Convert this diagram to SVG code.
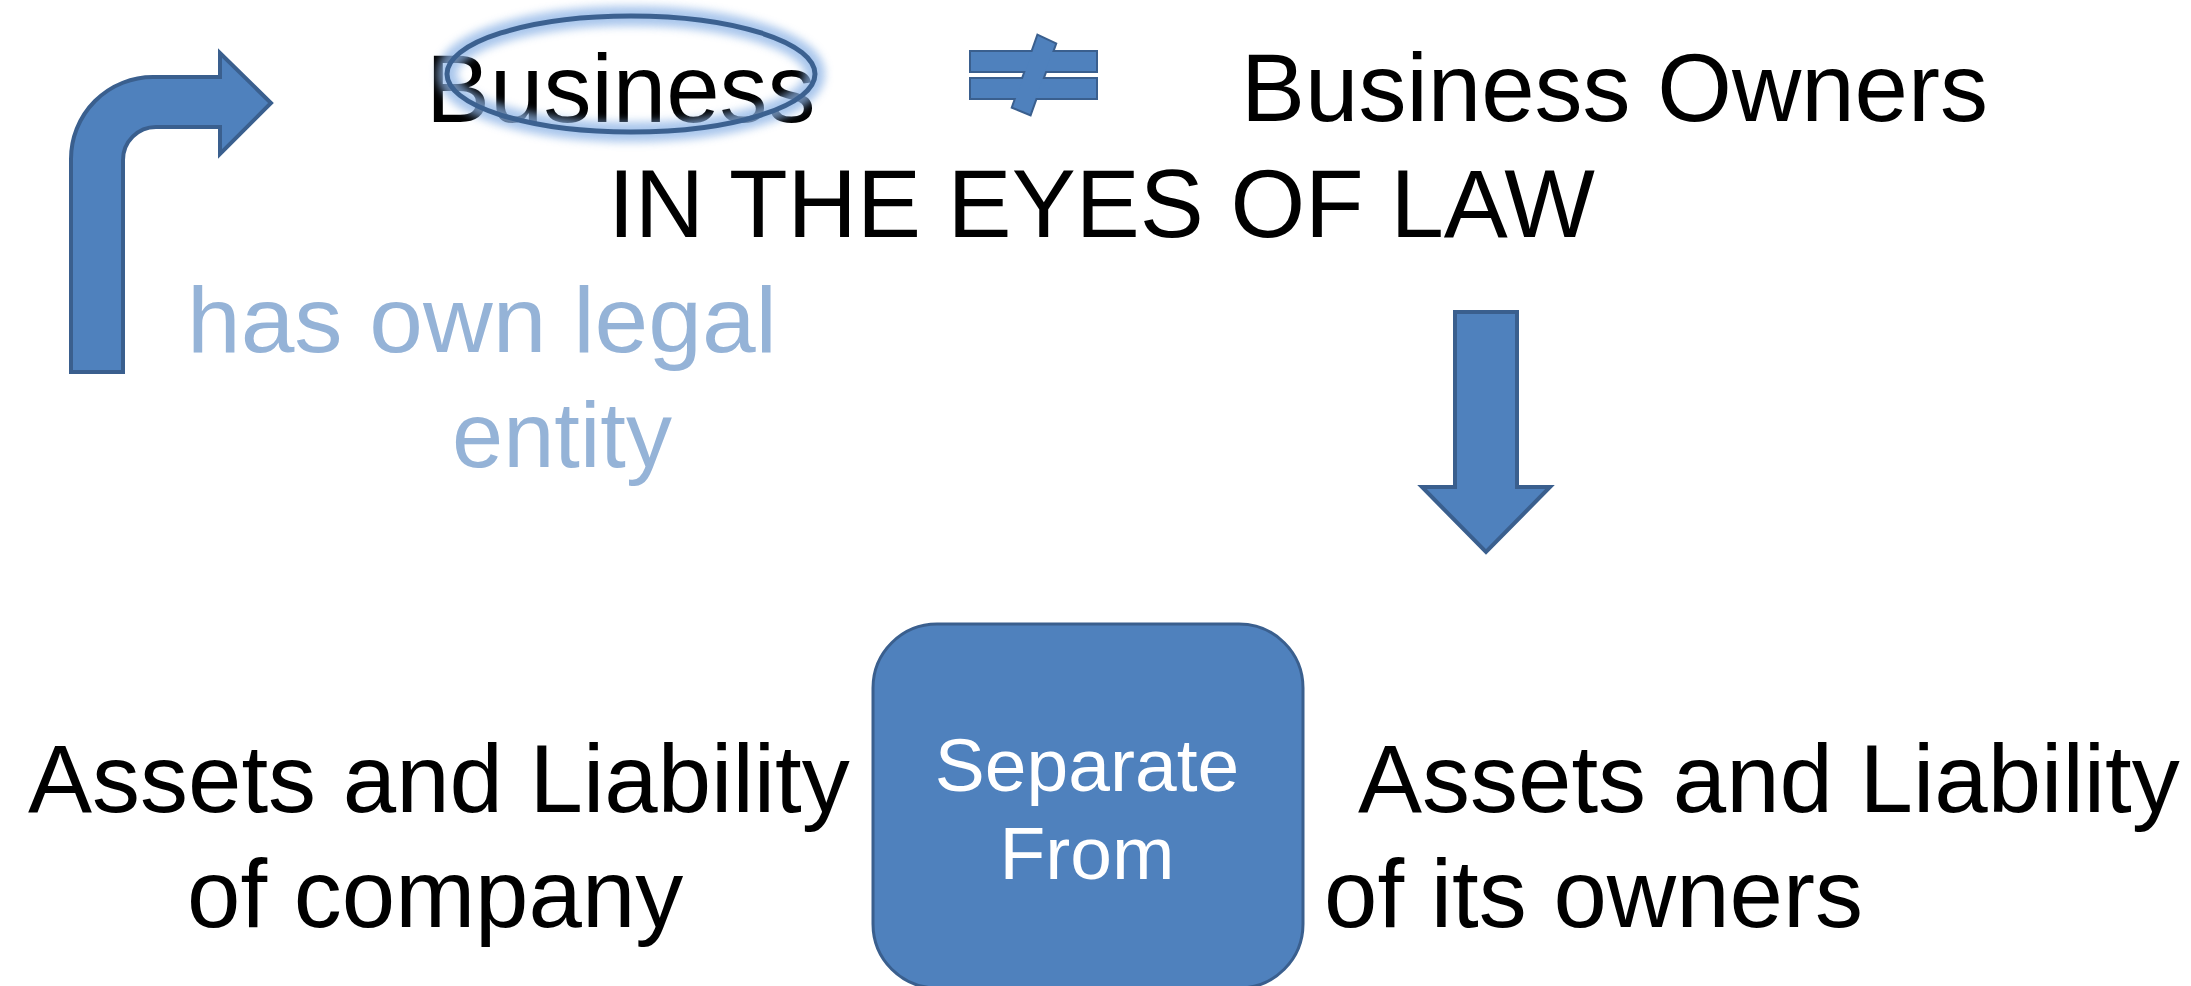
<svg xmlns="http://www.w3.org/2000/svg" width="2191" height="986" viewBox="0 0 2191 986">
  <defs>
    <filter id="glow" x="-20%" y="-40%" width="140%" height="180%">
      <feGaussianBlur stdDeviation="4"/>
    </filter>
  </defs>
  <style>
    .shape { fill: #4f81bd; stroke: #3a5f8e; stroke-width: 4; stroke-linejoin: miter; }
    .fillonly { fill: #4f81bd; stroke: none; }
    .txt { font-family: "Liberation Sans", Arial, sans-serif; font-size: 96px; fill: #000000; }
    .soft { font-family: "Liberation Sans", Arial, sans-serif; font-size: 92px; fill: #95b3d7; }
    .inbox { font-family: "Liberation Sans", Arial, sans-serif; font-size: 75px; fill: #ffffff; }
  </style>

  <rect width="2191" height="986" fill="#ffffff"/>

  <!-- headline: Business ≠ Business Owners -->
  <g id="business">
    <text class="txt" x="426" y="122" font-size="95">Business</text>
  </g>
  <g id="business-owners">
    <text class="txt" x="1241" y="121">Business Owners</text>
  </g>
  <g id="eyes-of-law">
    <text class="txt" x="608" y="237">IN THE EYES OF LAW</text>
  </g>

  <!-- highlight ring around "Business" -->
  <g id="highlight">
    <ellipse cx="631" cy="74" rx="184" ry="58" fill="none" stroke="#8db4e6" stroke-width="20" opacity="0.75" filter="url(#glow)"/>
    <ellipse cx="631" cy="74" rx="184" ry="58" fill="none" stroke="#3c6190" stroke-width="5"/>
  </g>

  <!-- not-equal sign: outline pass, then fill pass to merge pieces -->
  <g id="not-equal">
    <rect class="shape" x="971" y="52" width="125" height="19"/>
    <rect class="shape" x="971" y="79" width="125" height="19"/>
    <polygon class="shape" points="1038,36 1055,44 1030,114 1013,107"/>
    <rect class="fillonly" x="971" y="52" width="125" height="19"/>
    <rect class="fillonly" x="971" y="79" width="125" height="19"/>
    <polygon class="fillonly" points="1038,36 1055,44 1030,114 1013,107"/>
  </g>

  <g id="legal-entity-note">
    <text class="soft" x="187" y="352" textLength="590" lengthAdjust="spacingAndGlyphs">has own legal</text>
    <text class="soft" x="452" y="467" font-size="95">entity</text>
  </g>

  <g id="separate-from">
    <rect x="873" y="624" width="430" height="364" rx="64" ry="64" fill="#4f81bd" stroke="#3a5f8e" stroke-width="3"/>
    <text class="inbox" x="1087" y="791" text-anchor="middle">Separate</text>
    <text class="inbox" x="1087" y="879" text-anchor="middle">From</text>
  </g>

  <g id="company-side">
    <text class="txt" x="28" y="812">Assets and Liability</text>
    <text class="txt" x="187" y="927">of company</text>
  </g>

  <g id="owners-side">
    <text class="txt" x="1358" y="812">Assets and Liability</text>
    <text class="txt" x="1324" y="927">of its owners</text>
  </g>

  <!-- connectors -->
  <g id="connectors">
    <!-- bent arrow rising from the legal-entity note toward "Business" -->
    <path class="shape" d="M71,372 L71,159 A82,82 0 0 1 153,77 L220,77 L220,53 L271,103 L220,154 L220,127 L156,127 A33,33 0 0 0 123,160 L123,372 Z"/>
    <!-- downward arrow from the headline to the bottom row -->
    <polygon class="shape" points="1455,312 1517,312 1517,487 1550,487 1486,552 1422,487 1455,487"/>
  </g>
</svg>
